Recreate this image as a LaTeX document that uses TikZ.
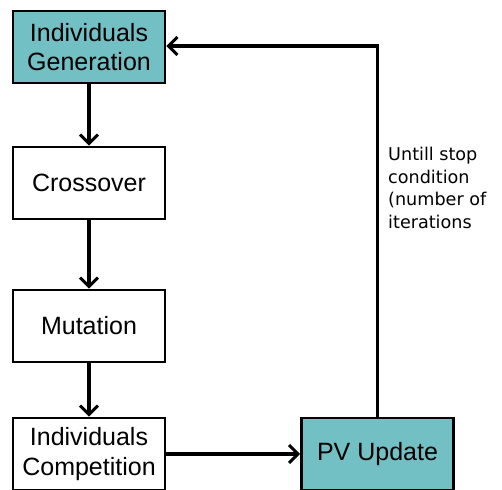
\documentclass[tikz,border=0pt]{standalone}
\usepackage{fontspec}
\setmainfont{Liberation Sans}
\newfontfamily\labelfont{DejaVu Sans}
\usetikzlibrary{arrows.meta}
\definecolor{teal1}{HTML}{72BFC4}
\begin{document}
\begin{tikzpicture}[x=1pt,y=-1pt,
  box/.style={draw=black,line width=2.6pt,minimum width=152pt,minimum height=72pt,
    inner sep=0pt,align=center,font=\fontsize{25}{29.5}\selectfont},
  tealbox/.style={box,fill=teal1},
  plainbox/.style={box,fill=white},
  conn/.style={line width=3.4pt,-{Straight Barb[length=9pt,width=18pt,line width=3pt]}}]
\useasboundingbox (0,0) rectangle (502,489);
\node[tealbox] (gen) at (89,47) {Individuals\\Generation};
\node[plainbox] (cross) at (89,183) {Crossover};
\node[plainbox] (mut) at (89,326) {Mutation};
\node[plainbox] (comp) at (89,454) {Individuals\\Competition};
\node[tealbox] (pv) at (377.5,454) {PV Update};
\coordinate (corner) at (377.5,46);
\draw[conn] (gen) -- (cross);
\draw[conn] (cross) -- (mut);
\draw[conn] (mut) -- (comp);
\draw[conn] (comp) -- (pv);
\draw[conn] (pv.north) -- (corner) -- (gen.east |- corner);
\node[anchor=north west,align=left,inner sep=0pt,font=\labelfont\fontsize{17.6}{22.7}\selectfont] (lbl) at (388,147)
 {Untill stop\\condition\\(number of\\iterations};
\end{tikzpicture}
\end{document}
